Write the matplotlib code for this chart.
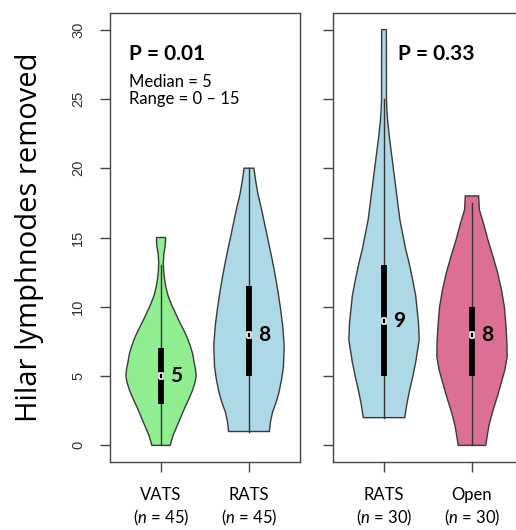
import numpy as np
import matplotlib
matplotlib.use("Agg")
import matplotlib.pyplot as plt

plt.rcParams['mathtext.fontset'] = 'custom'
plt.rcParams['mathtext.it'] = 'Lato:italic'
plt.rcParams['mathtext.rm'] = 'Lato'

# -----------------------------
# Dados
# -----------------------------
# perfil dos violinos: valor (eixo y) e largura relativa (1 = largura máxima)
vats_y = [0.0, 0.7, 1.6, 2.2, 2.8, 3.4, 4.0, 4.5, 5.0, 5.5, 6.0, 6.6, 7.2, 7.8, 8.4, 9.0, 9.6, 10.2, 10.8, 11.4, 12.0, 12.6, 13.2, 13.8, 14.4, 15.0]
vats_w = [0.26, 0.34, 0.49, 0.59, 0.69, 0.80, 0.90, 0.96, 1.0, 0.98, 0.94, 0.90, 0.83, 0.74, 0.63, 0.51, 0.40, 0.29, 0.20, 0.14, 0.10, 0.075, 0.065, 0.08, 0.12, 0.13]

rats1_y = [1.0, 1.7, 2.4, 3.1, 3.8, 4.8, 5.7, 7.2, 8.6, 9.8, 11.0, 12.2, 13.4, 14.6, 15.8, 17.0, 18.2, 19.1, 20.0]
rats1_w = [0.58, 0.61, 0.67, 0.77, 0.85, 0.93, 0.98, 1.0, 0.96, 0.90, 0.83, 0.75, 0.66, 0.56, 0.46, 0.36, 0.25, 0.19, 0.14]

rats2_y = [2.0, 3.0, 4.0, 5.0, 6.0, 7.6, 8.85, 10.8, 12.0, 13.2, 14.1, 15.0, 16.3, 17.5, 18.7, 19.9, 21.1, 22.3, 23.5, 24.3, 25.0, 30.0]
rats2_w = [0.59, 0.65, 0.73, 0.82, 0.90, 1.0, 0.98, 0.90, 0.81, 0.71, 0.62, 0.55, 0.45, 0.39, 0.33, 0.27, 0.21, 0.15, 0.10, 0.08, 0.07, 0.067]

open_y = [0.0, 1.4, 2.1, 2.8, 3.6, 4.5, 5.4, 6.4, 7.6, 8.8, 10.0, 11.2, 12.45, 13.6, 14.85, 16.0, 17.0, 18.0]
open_w = [0.39, 0.48, 0.55, 0.63, 0.73, 0.83, 0.93, 1.0, 0.99, 0.96, 0.92, 0.84, 0.73, 0.60, 0.45, 0.33, 0.21, 0.19]

# caixa: q1, q3, mediana, bigode inferior, bigode superior
vats_box = [3, 7, 5, 0, 13]
rats1_box = [5, 11.5, 8, 1, 20]
rats2_box = [5, 13, 9, 2, 25]
open_box = [5, 10, 8, 0, 17.5]

grupos_esq = ["VATS", "RATS"]
n_esq = [45, 45]
grupos_dir = ["RATS", "Open"]
n_dir = [30, 30]

cor_verde = "#90EE90"
cor_azul = "#ADD8E6"
cor_rosa = "#DB7093"

fig = plt.figure(figsize=(5.16, 5.30), dpi=100)
ax1 = fig.add_axes([110 / 516, 68 / 530, 190 / 516, 449 / 530])
ax2 = fig.add_axes([333 / 516, 68 / 530, 190 / 516, 449 / 530])


def violino(ax, pos, ys, ws, box, cor):
    ys = np.array(ys)
    ws = np.array(ws) * 0.4
    xs = np.concatenate([pos - ws, (pos + ws)[::-1]])
    yy = np.concatenate([ys, ys[::-1]])
    ax.fill(xs, yy, facecolor=cor, edgecolor="#3a3a3a", lw=1, zorder=2)
    q1, q3, med, lo, hi = box
    ax.plot([pos, pos], [lo, hi], color="#333333", lw=1, zorder=3)
    ax.plot([pos, pos], [q1, q3], color="black", lw=4.2, solid_capstyle="butt", zorder=4)
    ax.plot(pos, med, marker=[(-0.6, -1), (0.6, -1), (0.6, 1), (-0.6, 1), (-0.6, -1)],
            ms=5, mfc="none", mec="white", mew=1.2, zorder=5)
    ax.text(pos + 0.1, med, str(int(med)), fontsize=15, fontweight="bold",
            family="Lato", ha="left", va="center", zorder=6)


violino(ax1, 1, vats_y, vats_w, vats_box, cor_verde)
violino(ax1, 2, rats1_y, rats1_w, rats1_box, cor_azul)
violino(ax2, 1, rats2_y, rats2_w, rats2_box, cor_azul)
violino(ax2, 2, open_y, open_w, open_box, cor_rosa)

for ax, grupos, ns in [(ax1, grupos_esq, n_esq), (ax2, grupos_dir, n_dir)]:
    ax.set_xlim(0.42, 2.58)
    ax.set_ylim(-1.2, 31.2)
    for s in ax.spines.values():
        s.set_color("#444444")
        s.set_linewidth(1)
    ax.set_xticks([1, 2])
    ax.set_xticklabels([f"{g}\n($\\mathit{{n}}$ = {n})" for g, n in zip(grupos, ns)],
                       fontsize=12, family="Lato", linespacing=1.3)
    ax.set_yticks([0, 5, 10, 15, 20, 25, 30])
    ax.tick_params(axis="x", length=7, width=1, color="#444444", pad=11)
    ax.tick_params(axis="y", length=7, width=1, color="#444444")

ax1.set_yticklabels(["0", "5", "10", "15", "20", "25", "30"], rotation=90, va="center",
                    fontsize=10.5, family="Liberation Sans", color="#333333")
ax1.tick_params(axis="y", pad=11)
ax2.set_yticklabels([])

ax1.set_ylabel("Hilar lymphnodes removed", fontsize=21, family="Open Sans")
ax1.yaxis.set_label_coords(-0.35, 0.5)

ax1.text(0.636, 28.26, "P = 0.01", fontsize=15, fontweight="bold", family="Lato", va="center")
ax1.text(0.636, 26.2, "Median = 5", fontsize=12, family="Lato", va="center")
ax1.text(0.636, 25.0, "Range = 0 \u2013 15", fontsize=12, family="Lato", va="center")
ax2.text(1.159, 28.26, "P = 0.33", fontsize=15, fontweight="bold", family="Lato", va="center")

fig.savefig("out.png", dpi=100)
